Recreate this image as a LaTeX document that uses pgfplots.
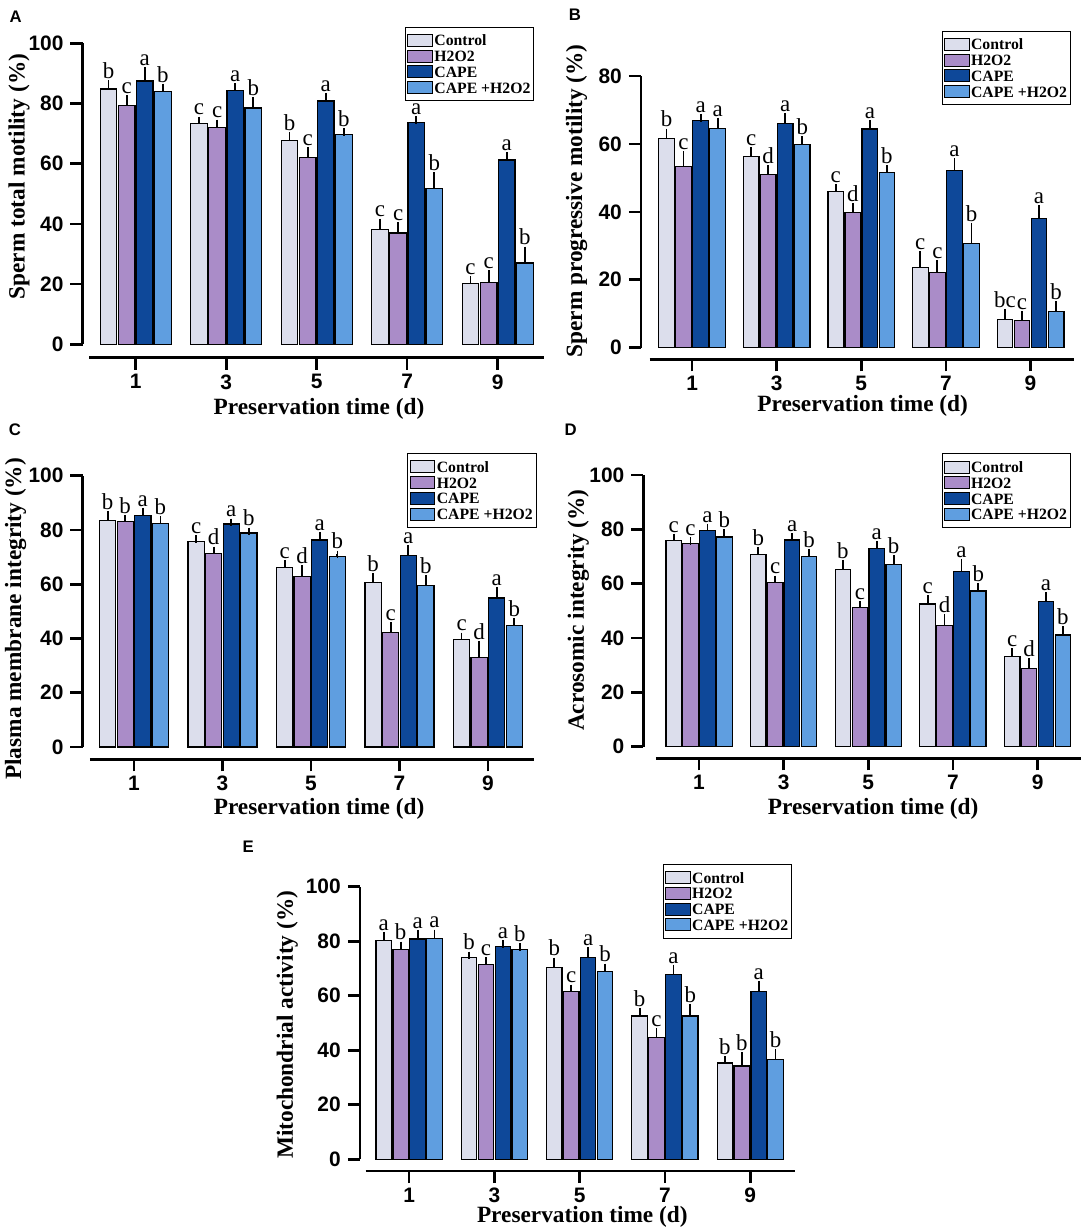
\documentclass[border=0pt]{standalone}
\usepackage{fontspec}
\setmainfont{Liberation Serif}
\newfontfamily\arial{Liberation Sans}
\usepackage{pgfplots}
\usepackage{pgfplotstable}
\pgfplotsset{compat=1.18}

\definecolor{cC}{RGB}{220,222,236}
\definecolor{cH}{RGB}{170,140,200}
\definecolor{cP}{RGB}{14,72,153}
\definecolor{cQ}{RGB}{95,158,224}

% columns: x, Control (value, error, letter), H2O2, CAPE, CAPE+H2O2
\pgfplotstableread{
x C Ce Cl H He Hl P Pe Pl Q Qe Ql
0 84.8 1.6 b 79.4 2.0 c 87.5 3.2 a 83.9 1.4 b
1 73.3 1.1 c 71.9 1.5 c 84.4 1.0 a 78.5 2.3 b
2 67.8 1.5 b 62.1 2.2 c 80.8 1.5 a 69.7 0.9 b
3 38.2 2.3 c 37.0 2.4 c 73.6 0.9 a 51.7 4.2 b
4 20.2 1.1 c 20.6 2.8 c 61.2 1.4 a 27.0 4.2 b
}\tA
\pgfplotstableread{
x C Ce Cl H He Hl P Pe Pl Q Qe Ql
0 61.6 1.8 b 53.3 3.4 c 67.0 0.6 a 64.6 2.0 a
1 56.2 1.7 c 51.1 1.5 d 65.9 2.1 a 59.8 1.4 b
2 46.1 1.0 c 39.7 1.8 d 64.4 1.5 a 51.6 1.0 b
3 23.5 3.8 c 22.1 2.5 c 52.1 2.5 a 30.6 5.1 b
4 8.3 2.0 bc 7.9 1.7 c 38.1 2.7 a 10.6 1.9 b
}\tB
\pgfplotstableread{
x C Ce Cl H He Hl P Pe Pl Q Qe Ql
0 83.4 2.2 b 83.2 1.0 b 85.4 1.3 a 82.4 1.3 b
1 75.6 1.0 c 71.3 1.2 d 82.2 0.6 a 78.9 0.6 b
2 66.1 1.3 c 62.8 2.7 d 76.3 1.6 a 70.1 0.9 b
3 60.7 2.1 b 42.1 2.5 c 70.6 2.5 a 59.5 2.5 b
4 39.7 1.1 c 32.9 4.8 d 54.9 2.7 a 44.7 1.5 b
}\tC
\pgfplotstableread{
x C Ce Cl H He Hl P Pe Pl Q Qe Ql
0 76.0 1.0 c 74.8 0.9 c 79.5 1.2 a 77.2 1.5 b
1 70.8 1.3 b 60.4 1.2 c 76.1 1.1 a 70.1 1.3 b
2 65.3 2.1 b 51.3 1.0 c 72.9 1.3 a 67.1 1.9 b
3 52.5 1.9 c 44.5 3.0 d 64.4 3.3 a 57.3 1.6 b
4 33.1 1.7 c 28.7 2.6 d 53.4 2.1 a 41.1 1.8 b
}\tD
\pgfplotstableread{
x C Ce Cl H He Hl P Pe Pl Q Qe Ql
0 80.4 1.6 a 77.0 1.5 b 80.8 2.0 a 81.1 1.8 a
1 74.0 0.8 b 71.5 1.3 c 78.0 0.9 a 76.9 0.9 b
2 70.3 2.3 b 61.6 1.1 c 74.0 2.4 a 68.8 1.6 b
3 52.6 1.6 b 44.6 2.0 c 67.7 2.3 a 52.6 3.1 b
4 35.3 1.1 b 34.2 3.7 b 61.7 2.4 a 36.6 2.5 b
}\tE

\pgfplotsset{
 eb/.style={error bars/.cd, y dir=plus, y explicit,
   error bar style={line width=0.9bp, black, solid},
   error mark options={line width=0.9bp, black, mark size=1.9bp, solid}},
 lett/.style={forget plot, draw=none, fill=none, nodes near coords, point meta=explicit symbolic,
   nodes near coords style={font=\fontsize{11.5}{11.5}\selectfont, text=black, anchor=south, inner sep=0pt, yshift=2.3bp}},
}

% #1 table, #2 inner shift (bp), #3 outer shift (bp)
\newcommand{\fourbars}[3]{%
\addplot[fill=cC, bar shift=-#3bp, eb] table[x=x,y=C,y error=Ce]{#1};
\addlegendentry{Control}
\addplot[fill=cH, bar shift=-#2bp, eb] table[x=x,y=H,y error=He]{#1};
\addlegendentry{H2O2}
\addplot[fill=cP, bar shift=#2bp, eb] table[x=x,y=P,y error=Pe]{#1};
\addlegendentry{CAPE}
\addplot[fill=cQ, bar shift=#3bp, eb] table[x=x,y=Q,y error=Qe]{#1};
\addlegendentry{CAPE +H2O2}
\addplot[lett, bar shift=-#3bp] table[x=x,y expr=\thisrow{C}+\thisrow{Ce},meta=Cl]{#1};
\addplot[lett, bar shift=-#2bp] table[x=x,y expr=\thisrow{H}+\thisrow{He},meta=Hl]{#1};
\addplot[lett, bar shift=#2bp] table[x=x,y expr=\thisrow{P}+\thisrow{Pe},meta=Pl]{#1};
\addplot[lett, bar shift=#3bp] table[x=x,y expr=\thisrow{Q}+\thisrow{Qe},meta=Ql]{#1};
}

\pgfplotsset{
 panel/.style={
  scale only axis, clip=false, ybar,
  axis x line=bottom, axis y line=left,
  axis line style={-, line width=1.3bp, black},
  tick align=outside, major tick length=6bp,
  major tick style={line width=1.3bp, black},
  xtick={0,1,2,3,4}, xticklabels={1,3,5,7,9},
  ticklabel style={font=\arial\bfseries\fontsize{10.5}{10.5}\selectfont},
  xticklabel style={yshift=-1.2bp, inner sep=1bp},
  /pgf/number format/assume math mode=true,
  label style={font=\bfseries\fontsize{11.7}{12}\selectfont, inner sep=0pt},
  every axis plot/.append style={draw=black, line width=0.6bp},
  legend cell align=left,
  legend image code/.code={\draw[##1, line width=0.5bp] (0bp,-3bp) rectangle (12.3bp,3bp);},
  legend style={anchor=north east, draw=black, line width=0.5bp, font=\bfseries\fontsize{7.9}{7.9}\selectfont, inner xsep=1bp, inner ysep=2.6bp, row sep=0pt, nodes={inner sep=0.7bp, text height=6bp, text depth=0.5bp}},
 }
}

\begin{document}
\begin{tikzpicture}
\path[use as bounding box] (0,0) rectangle (542bp,615bp);

% Panel A
\begin{axis}[panel, at={(41.25bp,436.15bp)}, anchor=south west, width=230.75bp, height=157.2bp,
 xmin=-0.588, xmax=4.512, ymin=-4.45, ymax=100, ytick={0,20,...,100},
 bar width=8.3bp,
 x axis line style={shorten <=3.45bp}, y axis line style={shorten <=6.7bp},
 ylabel={Sperm total motility (\%)}, xlabel={Preservation time (d)},
 ylabel style={at={(axis description cs:-0.1376,0.576)}, anchor=center},
 xlabel style={at={(axis description cs:0.5125,-0.162)}, anchor=center},
 legend style={at={(axis description cs:0.979,1.0528)}}]
\fourbars{\tA}{4.525}{13.575}
\end{axis}

% Panel B
\begin{axis}[panel, at={(320.45bp,435.35bp)}, anchor=south west, width=216.55bp, height=141.65bp,
 xmin=-0.605, xmax=4.514, ymin=-3.42, ymax=80, ytick={0,20,...,80},
 bar width=7.8bp,
 x axis line style={shorten <=4.35bp}, y axis line style={shorten <=5.81bp},
 ylabel={Sperm progressive motility (\%)}, xlabel={Preservation time (d)},
 ylabel style={at={(axis description cs:-0.1487,0.559)}, anchor=center},
 xlabel style={at={(axis description cs:0.512,-0.163)}, anchor=center},
 legend style={at={(axis description cs:0.993,1.16)}}]
\fourbars{\tB}{4.265}{12.795}
\end{axis}

% Panel C
\begin{axis}[panel, at={(41.25bp,235.35bp)}, anchor=south west, width=225.75bp, height=141.8bp,
 xmin=-0.582, xmax=4.52, ymin=-4.53, ymax=100, ytick={0,20,...,100},
 bar width=8.1bp,
 x axis line style={shorten <=3.65bp}, y axis line style={shorten <=6.15bp},
 ylabel={Plasma membrane integrity (\%)}, xlabel={Preservation time (d)},
 ylabel style={at={(axis description cs:-0.148,0.495)}, anchor=center},
 xlabel style={at={(axis description cs:0.524,-0.174)}, anchor=center},
 legend style={at={(axis description cs:1.006,1.079)}}]
\fourbars{\tC}{4.4}{13.2}
\end{axis}

% Panel D
\begin{axis}[panel, at={(321.7bp,235.85bp)}, anchor=south west, width=218.8bp, height=141.65bp,
 xmin=-0.657, xmax=4.513, ymin=-4.27, ymax=100, ytick={0,20,...,100},
 bar width=7.75bp,
 x axis line style={shorten <=6.25bp}, y axis line style={shorten <=5.8bp},
 ylabel={Acrosomic integrity (\%)}, xlabel={Preservation time (d)},
 ylabel style={at={(axis description cs:-0.1488,0.523)}, anchor=center},
 xlabel style={at={(axis description cs:0.525,-0.177)}, anchor=center},
 legend style={at={(axis description cs:0.977,1.076)}}]
\fourbars{\tD}{4.225}{12.675}
\end{axis}

% Panel E
\begin{axis}[panel, at={(179.9bp,29.5bp)}, anchor=south west, width=217.5bp, height=142.15bp,
 xmin=-0.579, xmax=4.523, ymin=-4.29, ymax=100, ytick={0,20,...,100},
 bar width=7.75bp,
 x axis line style={shorten <=2.95bp}, y axis line style={shorten <=5.85bp},
 ylabel={Mitochondrial activity (\%)}, xlabel={Preservation time (d)},
 ylabel style={at={(axis description cs:-0.1664,0.514)}, anchor=center},
 xlabel style={at={(axis description cs:0.5115,-0.162)}, anchor=center},
 legend style={at={(axis description cs:0.9936,1.080)}}]
\fourbars{\tE}{4.225}{12.675}
\end{axis}

\begin{scope}[every node/.style={font=\arial\bfseries\fontsize{8.4}{8.4}\selectfont}]
\node at (7.85bp,606.65bp) {A};
\node at (287.4bp,607.5bp) {B};
\node at (7.5bp,400bp) {C};
\node at (285.35bp,400bp) {D};
\node at (124.15bp,191.65bp) {E};
\end{scope}
\end{tikzpicture}
\end{document}
